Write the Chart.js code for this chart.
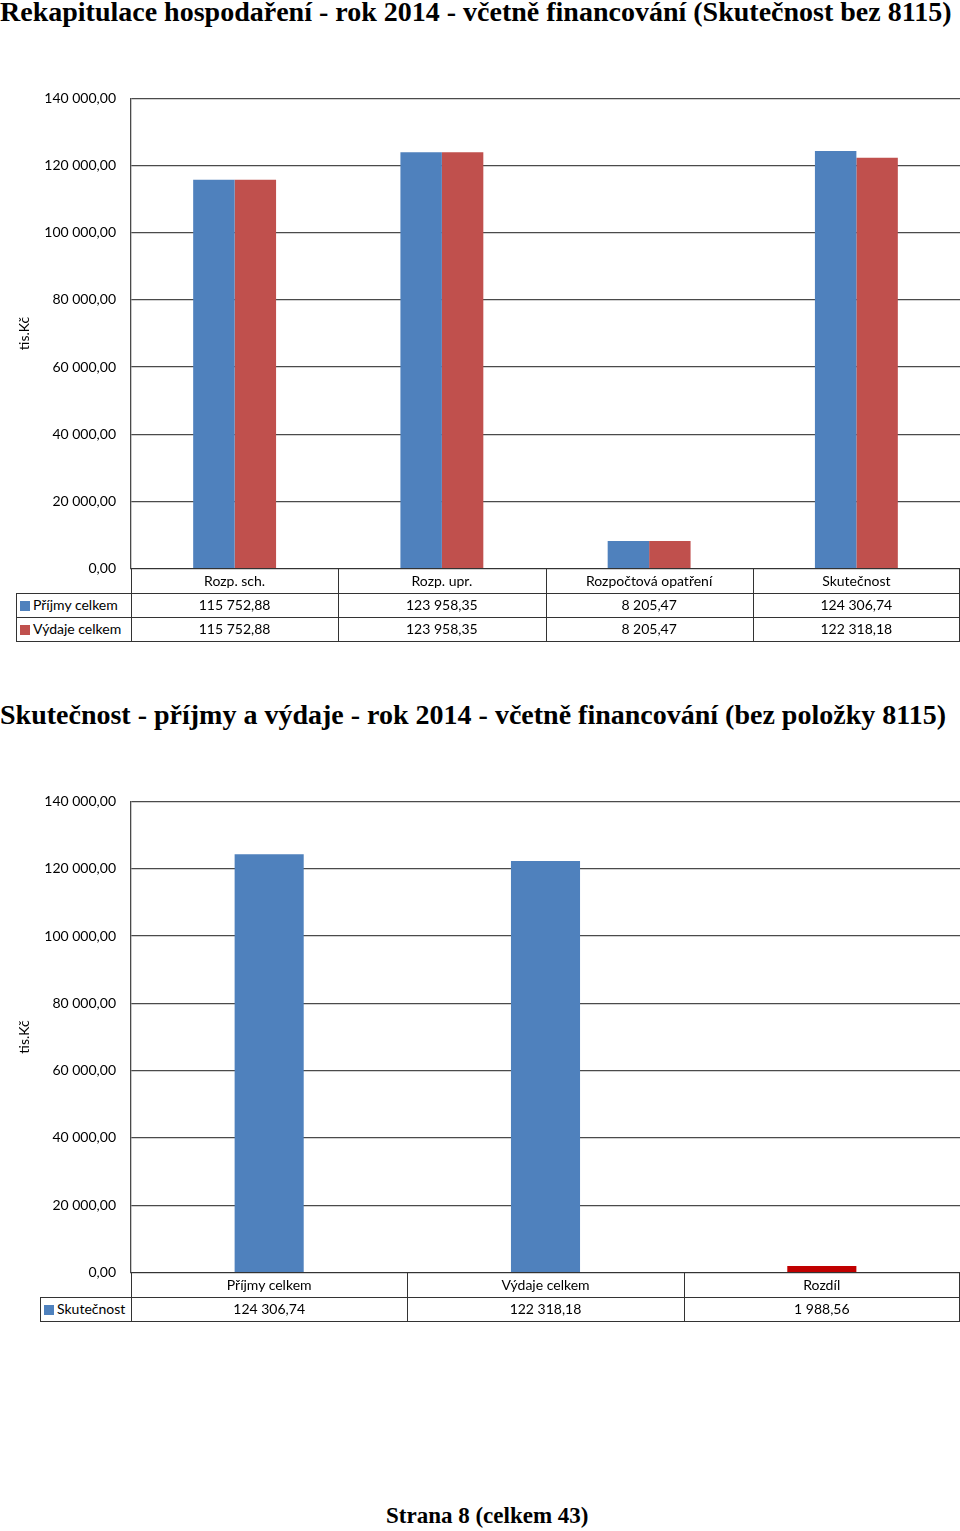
<!DOCTYPE html>
<html><head><meta charset="utf-8">
<script src="https://cdn.jsdelivr.net/npm/chart.js@4"></script>
<style>
html,body{margin:0;padding:0;background:#fff;width:960px;height:1531px;overflow:hidden;position:relative;font-family:Lato,"Liberation Sans",sans-serif;}
.title{position:absolute;left:0;white-space:nowrap;font-family:"Liberation Serif",serif;font-weight:bold;color:#000;}
canvas{position:absolute;left:0;}
.cell{position:absolute;box-sizing:border-box;font-size:14px;line-height:22px;text-align:center;color:#000;white-space:nowrap;}
.line{position:absolute;background:#333;}
.sw{display:inline-block;width:10px;height:10px;margin-right:3px;vertical-align:-1px;}
</style></head><body>
<div class="title" id="t1" style="top:-4px;font-size:28px;">Rekapitulace hospodaření - rok 2014 - včetně financování (Skutečnost bez 8115)</div>
<canvas id="c1" width="960" height="517" style="top:75px"></canvas>
<div class="title" id="t2" style="top:699px;font-size:28px;">Skutečnost - příjmy a výdaje - rok 2014 - včetně financování (bez položky 8115)</div>
<canvas id="c2" width="960" height="518" style="top:778px"></canvas>
<div class="title" style="top:1503px;left:386px;font-size:23px;">Strana 8 (celkem 43)</div>
<div id="tables"></div>
<script>
// ---- data ----
const categories1 = ["Rozp. sch.", "Rozp. upr.", "Rozpočtová opatření", "Skutečnost"];
const prijmy1 = [115752.88, 123958.35, 8205.47, 124306.74];
const vydaje1 = [115752.88, 123958.35, 8205.47, 122318.18];
const seriesNames1 = ["Příjmy celkem", "Výdaje celkem"];

const categories2 = ["Příjmy celkem", "Výdaje celkem", "Rozdíl"];
const skutecnost2 = [124306.74, 122318.18, 1988.56];
const seriesName2 = "Skutečnost";

const yTicksMax = 140000;
const yStep = 20000;
const axisTitle = "tis.Kč";

const BLUE = "#4F81BD", RED = "#C0504D", DARKRED = "#C00000";

function fmt(v){
  const parts = v.toFixed(2).split(".");
  const intp = parts[0].replace(/\B(?=(\d{3})+(?!\d))/g, " ");
  return intp + "," + parts[1];
}

const FONT = {family: 'Lato, "Liberation Sans", sans-serif', size: 14};

function makeChart(id, labels, datasets, catPct){
  return new Chart(document.getElementById(id), {
    type: 'bar',
    data: {labels: labels, datasets: datasets},
    options: {
      responsive: false, animation: false,
      layout: {padding: 0},
      plugins: {legend: {display: false}, tooltip: {enabled: false}},
      datasets: {bar: {categoryPercentage: catPct, barPercentage: 1}},
      scales: {
        x: {display: false},
        y: {
          min: 0, max: yTicksMax,
          afterFit: function(s){ s.width = 131; },
          ticks: {stepSize: yStep, color: '#000', font: FONT, padding: 15, callback: v => fmt(v)},
          grid: {color: '#4a4a4a', lineWidth: 1.3, drawTicks: false},
          border: {display: true, color: '#4a4a4a', width: 1.3},
          title: {display: true, text: axisTitle, color: '#000', font: FONT, padding: {top: 16, bottom: 0}}
        }
      }
    }
  });
}

makeChart('c1', categories1, [
  {label: seriesNames1[0], data: prijmy1, backgroundColor: BLUE},
  {label: seriesNames1[1], data: vydaje1, backgroundColor: RED}
], 0.4);

makeChart('c2', categories2, [
  {label: seriesName2, data: skutecnost2, backgroundColor: [BLUE, BLUE, DARKRED]}
], 0.25);

// ---- data tables ----
const host = document.getElementById('tables');
function line(x, y, w, h){
  const d = document.createElement('div'); d.className = 'line';
  d.style.left = x + 'px'; d.style.top = y + 'px'; d.style.width = w + 'px'; d.style.height = h + 'px';
  host.appendChild(d);
}
function cell(x, y, w, h, html, align){
  const d = document.createElement('div'); d.className = 'cell';
  d.style.left = x + 'px'; d.style.top = y + 'px'; d.style.width = w + 'px'; d.style.height = h + 'px';
  d.style.lineHeight = h + 'px';
  if (align) { d.style.textAlign = align; d.style.paddingLeft = '4px'; }
  d.innerHTML = html;
  host.appendChild(d);
}
function table(top, legendLeft, plotLeft, right, rowH, cats, rows){
  const n = cats.length;
  const cw = (right - plotLeft) / n;
  const nRows = rows.length + 1;
  for (let i = 0; i < n; i++) cell(plotLeft + i*cw, top, cw, rowH[0], cats[i]);
  let y = top + rowH[0];
  rows.forEach((r, ri) => {
    cell(legendLeft, y, plotLeft - legendLeft, rowH[ri+1], '<span class="sw" style="background:' + r.color + '"></span>' + r.name, 'left');
    for (let i = 0; i < n; i++) cell(plotLeft + i*cw, y, cw, rowH[ri+1], fmt(r.values[i]));
    y += rowH[ri+1];
  });
  const bottom = y;
  line(plotLeft, top, right - plotLeft, 1);
  let yy = top + rowH[0];
  for (let k = 1; k < nRows; k++) { line(legendLeft, yy, right - legendLeft, 1); yy += rowH[k]; }
  line(legendLeft, bottom, right - legendLeft, 1);
  line(legendLeft, top + rowH[0], 1, bottom - top - rowH[0] + 1);
  for (let i = 0; i <= n; i++) line(Math.round(plotLeft + i*cw) - (i === n ? 1 : 0), top, 1, bottom - top + 1);
}
table(568, 16, 131, 960, [25, 24, 24], categories1, [
  {name: seriesNames1[0], color: BLUE, values: prijmy1},
  {name: seriesNames1[1], color: RED, values: vydaje1}
]);
table(1272, 40, 131, 960, [25, 24], categories2, [
  {name: seriesName2, color: BLUE, values: skutecnost2}
]);
</script>
</body></html>
